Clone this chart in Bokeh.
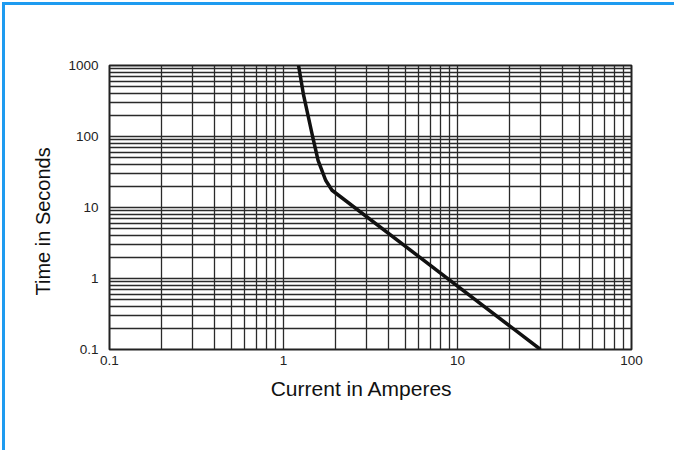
from bokeh.plotting import figure
from bokeh.models import FixedTicker, CustomJSTickFormatter, InlineStyleSheet
from bokeh.embed import file_html
from bokeh.resources import INLINE

# Data
current_amps = [1.22, 1.30, 1.47, 1.58, 1.75, 1.90, 30.0]
time_seconds = [1000, 400, 100, 46, 24, 17.5, 0.1]

x_major = [0.1, 1, 10, 100]
y_major = [0.1, 1, 10, 100, 1000]
x_minor = [m * 10.0 ** k for k in (-1, 0, 1) for m in range(2, 10)]
y_minor = [m * 10.0 ** k for k in (-1, 0, 1, 2) for m in range(2, 10)]

W, H = 674, 450
L, R, T, B = 109, 43, 65, 101
p = figure(width=W, height=H, x_axis_type="log", y_axis_type="log",
           x_range=(0.1, 100), y_range=(0.1, 1000),
           output_backend="svg", toolbar_location=None,
           min_border_left=L, min_border_right=R,
           min_border_top=T, min_border_bottom=B)

p.background_fill_color = "white"
p.border_fill_color = "white"
# partial blue frame at the top-left of the page
p.stylesheets = [InlineStyleSheet(css="""
:host { position: relative; }
:host::before { content: ""; display: block; position: absolute; left: 2px; top: 2px;
                width: 3px; height: 448px; background: #1e9bf0; z-index: 10; pointer-events: none; }
:host::after { content: ""; display: block; position: absolute; left: 2px; top: 2px;
               width: 672px; height: 3px; max-height: 3px; background: #1e9bf0; z-index: 10;
               pointer-events: none; }
""")]
p.outline_line_color = "#222222"
p.outline_line_width = 2

fmt = CustomJSTickFormatter(code="return tick.toString();")
for ax, maj, mnr in ((p.xaxis[0], x_major, x_minor), (p.yaxis[0], y_major, y_minor)):
    ax.ticker = FixedTicker(ticks=maj, minor_ticks=mnr)
    ax.formatter = fmt
    ax.axis_line_color = None
    ax.major_tick_line_color = None
    ax.minor_tick_line_color = None
    ax.major_tick_out = 0
    ax.major_tick_in = 0
    ax.minor_tick_out = 0
    ax.major_label_text_font = "Liberation Sans"
    ax.major_label_text_font_size = "13.5px"
    ax.major_label_text_color = "#222222"
    ax.axis_label_text_font = "Liberation Sans"
    ax.axis_label_text_font_style = "normal"
    ax.axis_label_text_color = "#111111"

NB = "\u00a0"
p.xaxis.axis_label = "Current in Amperes" + NB * 3
p.yaxis.axis_label = "Time in Seconds" + NB * 5
p.xaxis.axis_label_text_font_size = "21px"
p.yaxis.axis_label_text_font_size = "20px"
p.xaxis.major_label_standoff = 6
p.yaxis.major_label_standoff = 11
p.xaxis.axis_label_standoff = 9
p.yaxis.axis_label_standoff = 11

for g in (p.xgrid[0], p.ygrid[0]):
    g.grid_line_color = "#2a2a2a"
    g.grid_line_width = 1.3
    g.grid_line_alpha = 1.0
    g.minor_grid_line_color = "#2a2a2a"
    g.minor_grid_line_width = 1.3
    g.minor_grid_line_alpha = 1.0

p.line(current_amps, time_seconds, line_color="#111111", line_width=3.5)

open("out.html", "w").write(file_html(p, INLINE))
